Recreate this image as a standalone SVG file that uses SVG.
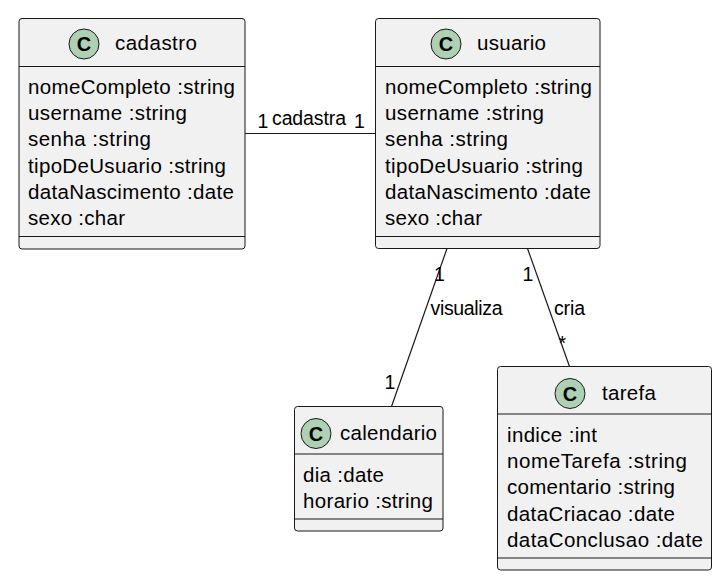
<svg xmlns="http://www.w3.org/2000/svg" width="720" height="582" viewBox="0 0 720 582">
<style>
.box{fill:#F1F1F1;stroke:#181818;stroke-width:1}
.sep{stroke:#181818;stroke-width:1}
.sep2{stroke:#181818;stroke-width:1.2}
.ci{fill:#ADD1B2;stroke:#181818;stroke-width:1}
.cl{font-family:"Liberation Sans",Arial,sans-serif;font-size:20px;font-weight:bold;fill:#000;text-anchor:middle}
.t{font-family:"Liberation Sans",Arial,sans-serif;font-size:20.5px;fill:#000}
.l{font-family:"Liberation Sans",Arial,sans-serif;font-size:19.5px;fill:#000}
.edge{stroke:#181818;stroke-width:1.2;fill:none}
</style>
<rect width="720" height="582" fill="#FFFFFF"/>
<g id="connectors">
<line class="edge" x1="245" y1="133.5" x2="375.5" y2="133.5"/>
<text class="l" x="257.5" y="128">1</text>
<text class="l" x="272" y="125" textLength="74" lengthAdjust="spacing">cadastra</text>
<text class="l" x="354" y="128">1</text>
<line class="edge" x1="447" y1="248.5" x2="391.5" y2="406.5"/>
<text class="l" x="434" y="281">1</text>
<text class="l" x="430.5" y="315" textLength="72" lengthAdjust="spacing">visualiza</text>
<text class="l" x="384.5" y="389">1</text>
<line class="edge" x1="527.5" y1="248.5" x2="569.5" y2="366.5"/>
<text class="l" x="522.5" y="281">1</text>
<text class="l" x="554" y="315" textLength="31" lengthAdjust="spacing">cria</text>
<text class="l" x="558.5" y="349.5">*</text>
</g>
<g id="cadastro">
<rect class="box" x="19" y="18.5" width="226" height="230.5" rx="3"/>
<circle class="ci" cx="84" cy="44" r="15"/>
<text class="cl" x="84" y="51">C</text>
<text class="t" x="115" y="50" textLength="82" lengthAdjust="spacing">cadastro</text>
<line class="sep" x1="19" y1="66.5" x2="245" y2="66.5"/>
<text class="t" x="28" y="93.5" textLength="207" lengthAdjust="spacing">nomeCompleto :string</text>
<text class="t" x="28" y="120" textLength="159" lengthAdjust="spacing">username :string</text>
<text class="t" x="28" y="146.3" textLength="123" lengthAdjust="spacing">senha :string</text>
<text class="t" x="28" y="172.6" textLength="198" lengthAdjust="spacing">tipoDeUsuario :string</text>
<text class="t" x="28" y="198.9" textLength="206" lengthAdjust="spacing">dataNascimento :date</text>
<text class="t" x="28" y="225.2" textLength="97" lengthAdjust="spacing">sexo :char</text>
<line class="sep2" x1="19" y1="236.5" x2="245" y2="236.5"/>
</g>
<g id="usuario">
<rect class="box" x="375.5" y="18.5" width="224.5" height="230" rx="3"/>
<circle class="ci" cx="446" cy="44" r="15"/>
<text class="cl" x="446" y="51">C</text>
<text class="t" x="477" y="50" textLength="69" lengthAdjust="spacing">usuario</text>
<line class="sep" x1="375.5" y1="66.5" x2="600" y2="66.5"/>
<text class="t" x="385" y="93.5" textLength="207" lengthAdjust="spacing">nomeCompleto :string</text>
<text class="t" x="385" y="120" textLength="159" lengthAdjust="spacing">username :string</text>
<text class="t" x="385" y="146.3" textLength="123" lengthAdjust="spacing">senha :string</text>
<text class="t" x="385" y="172.6" textLength="198" lengthAdjust="spacing">tipoDeUsuario :string</text>
<text class="t" x="385" y="198.9" textLength="206" lengthAdjust="spacing">dataNascimento :date</text>
<text class="t" x="385" y="225.2" textLength="97" lengthAdjust="spacing">sexo :char</text>
<line class="sep2" x1="375.5" y1="236.5" x2="600" y2="236.5"/>
</g>
<g id="calendario">
<rect class="box" x="294.5" y="406.5" width="148.5" height="124.5" rx="3"/>
<circle class="ci" cx="316" cy="433.5" r="15"/>
<text class="cl" x="316" y="440.5">C</text>
<text class="t" x="340" y="439.5" textLength="97" lengthAdjust="spacing">calendario</text>
<line class="sep" x1="294.5" y1="454" x2="443" y2="454"/>
<text class="t" x="303" y="482" textLength="81" lengthAdjust="spacing">dia :date</text>
<text class="t" x="303" y="508" textLength="130" lengthAdjust="spacing">horario :string</text>
<line class="sep2" x1="294.5" y1="519" x2="443" y2="519"/>
</g>
<g id="tarefa">
<rect class="box" x="497.5" y="366.5" width="214" height="203.5" rx="3"/>
<circle class="ci" cx="570" cy="393.5" r="15"/>
<text class="cl" x="570" y="400.5">C</text>
<text class="t" x="602" y="399.5" textLength="54" lengthAdjust="spacing">tarefa</text>
<line class="sep" x1="497.5" y1="414" x2="711.5" y2="414"/>
<text class="t" x="507" y="441.7" textLength="90" lengthAdjust="spacing">indice :int</text>
<text class="t" x="507" y="468" textLength="180" lengthAdjust="spacing">nomeTarefa :string</text>
<text class="t" x="507" y="494.3" textLength="168" lengthAdjust="spacing">comentario :string</text>
<text class="t" x="507" y="520.6" textLength="168" lengthAdjust="spacing">dataCriacao :date</text>
<text class="t" x="507" y="546.9" textLength="196" lengthAdjust="spacing">dataConclusao :date</text>
<line class="sep2" x1="497.5" y1="558" x2="711.5" y2="558"/>
</g>
</svg>
